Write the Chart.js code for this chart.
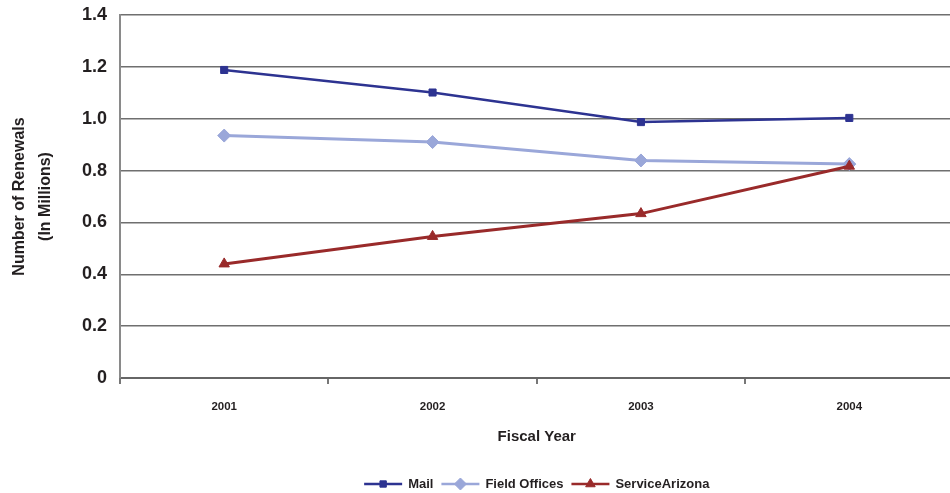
<!DOCTYPE html>
<html>
<head>
<meta charset="utf-8">
<script src="https://cdn.jsdelivr.net/npm/chart.js@4/dist/chart.umd.min.js"></script>
<style>
  html, body { margin: 0; padding: 0; background: #fff; overflow: hidden; }
  #wrap { width: 961px; height: 493px; position: relative; }
</style>
</head>
<body>
<div id="wrap"><canvas id="renewals"></canvas></div>
<script>
// Vehicle registration renewals by channel, in millions
const fiscalYears = ['2001', '2002', '2003', '2004'];
const mailRenewals = [1.188, 1.101, 0.987, 1.003];
const fieldOfficeRenewals = [0.935, 0.910, 0.839, 0.825];
const serviceArizonaRenewals = [0.440, 0.546, 0.634, 0.817];
const yAxisMin = 0;
const yAxisMax = 1.4;
const yAxisStep = 0.2;

const FONT = "'Liberation Sans', Arial, sans-serif";
const TEXT = '#231f20';

const series = [
  { label: 'Mail', data: mailRenewals, color: '#2d3391', style: 'rect', radius: 5, width: 2.5, order: 0 },
  { label: 'Field Offices', data: fieldOfficeRenewals, color: '#9aa7d9', style: 'rectRot', radius: 6.5, width: 3, order: 1 },
  { label: 'ServiceArizona', data: serviceArizonaRenewals, color: '#992a2a', style: 'triangle', radius: 6, width: 3, order: 0 }
];

// draws a small marker shape for the legend samples
function drawMarker(ctx, style, x, y, r) {
  ctx.beginPath();
  if (style === 'rect') {
    const s = r * Math.SQRT1_2;
    ctx.rect(x - s, y - s, 2 * s, 2 * s);
  } else if (style === 'rectRot') {
    ctx.moveTo(x, y - r); ctx.lineTo(x + r, y); ctx.lineTo(x, y + r); ctx.lineTo(x - r, y);
    ctx.closePath();
  } else {
    const h = r * Math.sqrt(3) / 2;
    ctx.moveTo(x, y - r); ctx.lineTo(x + h, y + r / 2); ctx.lineTo(x - h, y + r / 2);
    ctx.closePath();
  }
  ctx.fill();
  ctx.stroke();
}

// line-and-marker legend centred under the plot area
const lineLegend = {
  id: 'lineLegend',
  afterDraw(chart) {
    const ctx = chart.ctx;
    const area = chart.chartArea;
    const sampleW = 38, textGap = 6, itemGap = 8, y = 484;
    ctx.save();
    ctx.font = 'bold 13px ' + FONT;
    ctx.textBaseline = 'middle';
    const items = series.map(s => ({ s, w: sampleW + textGap + ctx.measureText(s.label).width }));
    const total = items.reduce((a, it) => a + it.w, 0) + itemGap * (items.length - 1);
    let x = (area.left + area.right) / 2 - total / 2;
    items.forEach(({ s, w }) => {
      ctx.strokeStyle = s.color;
      ctx.fillStyle = s.color;
      ctx.lineWidth = 2.5;
      ctx.beginPath();
      ctx.moveTo(x, y); ctx.lineTo(x + sampleW, y);
      ctx.stroke();
      ctx.lineWidth = 1;
      drawMarker(ctx, s.style, x + sampleW / 2, y, s.radius - 0.5);
      ctx.fillStyle = TEXT;
      ctx.textAlign = 'left';
      ctx.fillText(s.label, x + sampleW + textGap, y + 0.5);
      x += w + itemGap;
    });
    ctx.restore();
  }
};

const bgPlugin = {
  id: 'whiteBg',
  beforeDraw(chart) {
    const ctx = chart.ctx;
    ctx.save();
    ctx.fillStyle = '#fff';
    ctx.fillRect(0, 0, chart.width, chart.height);
    ctx.restore();
  }
};

new Chart(document.getElementById('renewals'), {
  type: 'line',
  data: {
    labels: fiscalYears,
    datasets: series.map(s => ({
      label: s.label,
      data: s.data,
      borderColor: s.color,
      backgroundColor: s.color,
      borderWidth: s.width,
      pointStyle: s.style,
      pointRadius: s.radius,
      pointHoverRadius: s.radius,
      pointBorderWidth: 1,
      pointBackgroundColor: s.color,
      pointBorderColor: s.color,
      tension: 0,
      fill: false,
      order: s.order
    }))
  },
  options: {
    responsive: true,
    maintainAspectRatio: false,
    animation: false,
    events: [],
    layout: { padding: { top: 15, left: 0, right: 0, bottom: 0 } },
    plugins: {
      legend: { display: false },
      tooltip: { enabled: false }
    },
    scales: {
      x: {
        offset: true,
        afterFit(scale) { scale.height = 115; },
        grid: {
          offset: true,
          drawOnChartArea: false,
          drawTicks: true,
          tickLength: 6,
          color: '#777',
          lineWidth: 2
        },
        border: { display: true, color: '#666', width: 2 },
        ticks: {
          padding: 16,
          color: TEXT,
          font: { family: FONT, size: 11.5, weight: 'bold' }
        },
        title: {
          display: true,
          text: 'Fiscal Year',
          color: TEXT,
          font: { family: FONT, size: 15, weight: 'bold' },
          padding: { top: 0, bottom: 47 }
        }
      },
      y: {
        min: yAxisMin,
        max: yAxisMax,
        afterFit(scale) {
          scale.width = 120;
          scale.paddingTop = 0;
          scale.paddingBottom = 0;
        },
        grid: {
          drawTicks: false,
          color: '#6f6f6f',
          lineWidth: 1.5
        },
        border: { display: true, color: '#8a8a8a', width: 2 },
        ticks: {
          stepSize: yAxisStep,
          padding: 13,
          color: TEXT,
          font: { family: FONT, size: 18, weight: 'bold' },
          callback: v => (v === 0 ? '0' : Number(v).toFixed(1))
        },
        title: {
          display: true,
          text: ['Number of Renewals', '(In Millions)'],
          color: TEXT,
          font: { family: FONT, size: 16, weight: 'bold', lineHeight: 1.6 },
          padding: { top: 7, bottom: 0 }
        }
      }
    }
  },
  plugins: [bgPlugin, lineLegend]
});
</script>
</body>
</html>
